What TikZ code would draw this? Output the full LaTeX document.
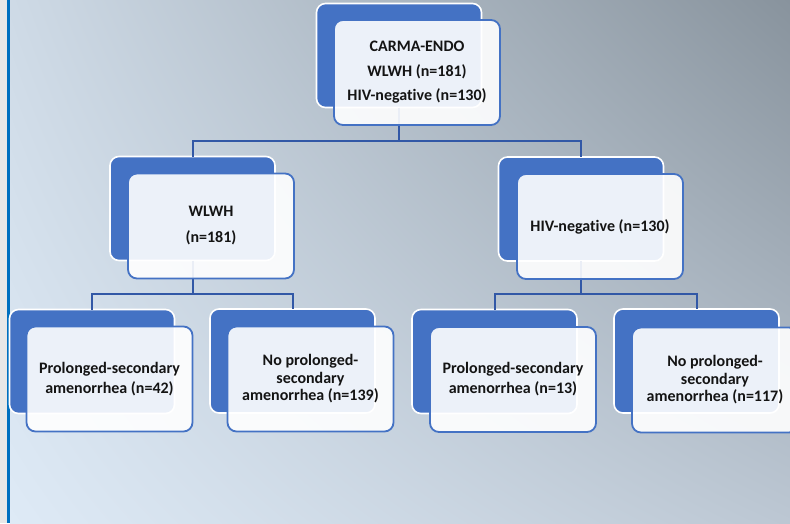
\documentclass[tikz,border=0pt]{standalone}
\usepackage{fontspec}
\setmainfont[Ligatures=NoCommon]{Carlito}
\usetikzlibrary{shadings}
\definecolor{boxblue}{RGB}{68,114,196}
\definecolor{conn}{RGB}{50,88,166}
\definecolor{bgUL}{RGB}{206,218,230}
\definecolor{bgUR}{RGB}{136,147,157}
\definecolor{bgLL}{RGB}{222,234,246}
\definecolor{bgLR}{RGB}{188,199,211}
\definecolor{stripgray}{RGB}{232,232,232}
\definecolor{edgeblue}{RGB}{0,112,192}
\definecolor{txt}{RGB}{20,20,20}
\tikzset{
  backbox/.style={rectangle, rounded corners=9pt, fill=boxblue, draw=white, line width=1.6pt,
    minimum width=165pt, minimum height=104pt, inner sep=0pt, outer sep=0pt},
  frontbox/.style={rectangle, rounded corners=9pt, fill=white, fill opacity=0.9, text opacity=1,
    draw=boxblue, line width=1.8pt, minimum width=166pt, minimum height=105pt,
    inner sep=0pt, outer sep=0pt, align=center,
    font=\fontsize{16}{17.5}\selectfont\bfseries, text=txt},
  link/.style={draw=conn, line width=2pt}
}
\begin{document}
\begin{tikzpicture}[x=1pt,y=-1pt]
\useasboundingbox (0,0) rectangle (790,523);
\clip (0,0) rectangle (790,523);
% background
\fill[stripgray] (0,0) rectangle (7,523);
\shade[upper left=bgUL, upper right=bgUR, lower left=bgLL, lower right=bgLR] (10,0) rectangle (790,523);
\fill[edgeblue] (7,0) rectangle (10,523);
% back boxes
\node[backbox] (b0) at (399,55.5) {};
\node[backbox] (b1) at (192.5,208.5) {};
\node[backbox] (b2) at (581,209) {};
\node[backbox] (b3) at (92,361.5) {};
\node[backbox] (b4) at (292.5,361) {};
\node[backbox] (b5) at (494.5,361.5) {};
\node[backbox] (b6) at (696.5,361) {};
% connectors
\coordinate (j0) at (0,141);
\coordinate (j1) at (0,294);
\draw[link] (b0.south) -- (b0.south |- j0) -| (b1.north);
\draw[link] (b0.south |- j0) -| (b2.north);
\draw[link] (b1.south) -- (b1.south |- j1) -| (b3.north);
\draw[link] (b1.south |- j1) -| (b4.north);
\draw[link] (b2.south) -- (b2.south |- j1) -| (b5.north);
\draw[link] (b2.south |- j1) -| (b6.north);
% front boxes
\node[frontbox] (f0) at (417,72.5) {CARMA-ENDO\\[7pt]WLWH (n=181)\\[7pt]HIV-negative (n=130)};
\node[frontbox] (f1) at (211,226) {WLWH\\[8.5pt](n=181)};
\node[frontbox] (f2) at (600,226.5) {HIV-negative (n=130)};
\node[frontbox] (f3) at (109.5,379) {Prolonged-secondary\\[2.5pt]amenorrhea (n=42)};
\node[frontbox] (f4) at (310.5,379) {No prolonged-\\secondary\\amenorrhea (n=139)};
\node[frontbox] (f5) at (513,379.5) {Prolonged-secondary\\[2.5pt]amenorrhea (n=13)};
\node[frontbox] (f6) at (715,380) {No prolonged-\\secondary\\amenorrhea (n=117)};
\end{tikzpicture}
\end{document}
